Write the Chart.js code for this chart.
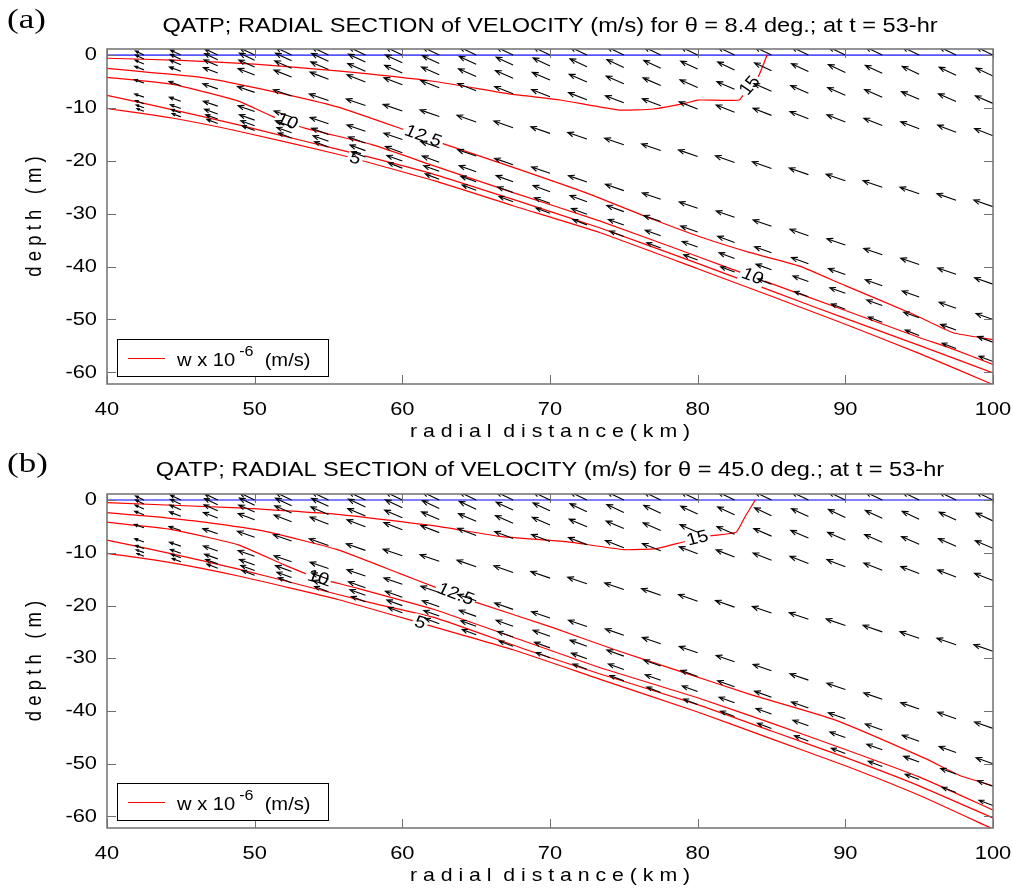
<!DOCTYPE html>
<html lang="en">
<head>
<meta charset="UTF-8" />
<title>QATP radial sections of velocity</title>
<script src="https://cdn.jsdelivr.net/npm/chart.js"></script>
<style>
  body { margin: 0; background: #fff; }
  .panel { width: 1013px; height: 444px; }
</style>
</head>
<body>
<div class="panel"><canvas id="sectionA" width="1013" height="444"></canvas></div>
<div class="panel"><canvas id="sectionB" width="1013" height="444"></canvas></div>
<script>
// axis ticks
const xTicks = [40, 50, 60, 70, 80, 90, 100];
const yTicks = [0, -10, -20, -30, -40, -50, -60];

// quiver grid: radial columns (km), bed depth under each column (m), sigma levels
const gridX = [40, 42.5, 45, 47.5, 50, 52.5, 55, 57.5, 60, 62.5, 65, 67.5, 70,
               72.5, 75, 77.5, 80, 82.5, 85, 87.5, 90, 92.5, 95, 97.5, 100];
const bedDepth = [10.3, 11.2, 12.3, 13.6, 15.0, 16.5, 18.3, 20.3, 22.5, 24.7, 26.9, 29.2, 31.5,
                  33.8, 36.1, 38.4, 40.8, 43.2, 45.6, 48.1, 50.6, 53.2, 55.8, 58.4, 61.0];
const sigmaLevels = [0, 0.065, 0.15, 0.25, 0.47, 0.71, 0.82, 0.89, 0.95];
// arrow size per level (km across, m up) and strength per column
const levelDx = [-1.15, -1.15, -1.2, -1.25, -1.3, -1.25, -1.15, -1.05, -0.95];
const levelDz = [1.55, 1.5, 1.45, 1.35, 1.25, 1.2, 1.15, 1.05, 1.0];
const columnStrength = [0.35, 0.5, 0.62, 0.78, 0.9, 0.95, 1, 1, 1, 1, 1, 1, 1,
                        1, 1, 1, 1, 1, 1, 1, 1, 1, 1, 1, 1];

// contour levels of w (x 10^-6 m/s)
const contourLevels = [15, 12.5, 10, 7.5, 5];

// panel (a), theta = 8.4 deg
const w15aX = [40, 45, 50, 55.6, 62.2, 67.4, 70.7, 74.7, 77.0, 79.2, 80.0, 82.8, 83.3, 84.1, 84.7];
const w15aY = [-0.6, -1.0, -1.7, -3.0, -5.0, -7.4, -8.5, -10.4, -10.2, -9.1, -8.5, -8.5, -6.6, -4.1, 0];
const w125aX = [40, 43, 46.6, 51.1, 55.6, 60.1, 62.7, 68.0, 72.5, 77.0, 80.1, 83.5, 86.9, 90.0, 94.6, 97.3, 100];
const w125aY = [-2.5, -3.3, -4.3, -6.8, -9.8, -14.1, -16.7, -21.7, -26.1, -31.1, -34.3, -37.3, -39.9, -43.6, -49.0, -52.5, -53.8];
const w10aX = [40, 44.4, 48.9, 51.2, 53.4, 57.9, 62.2, 67.5, 73.4, 80, 83.7, 90, 95, 97.3, 100];
const w10aY = [-4.2, -5.5, -8.7, -11.6, -13.8, -16.9, -21.0, -26.0, -31.4, -38.1, -41.9, -48.3, -53.4, -55.6, -58.5];
const w75aX = [40, 44.4, 48.9, 53.4, 57.9, 62.2, 67.5, 73.4, 80, 85, 90, 95, 100];
const w75aY = [-7.6, -10.3, -13.2, -16.3, -19.4, -22.6, -27.3, -32.7, -39.4, -44.6, -49.8, -54.9, -60.1];
const w5aX = [40, 44.4, 48.9, 55.7, 62.2, 67.5, 73.4, 80, 85, 90, 95, 100];
const w5aY = [-10.1, -11.9, -14.4, -18.8, -23.8, -28.5, -33.6, -40.4, -45.6, -50.9, -56.4, -62.3];
const labelAText = ['15', '12.5', '10', '5', '10'];
const labelALevel = [15, 12.5, 10, 5, 10];
const labelAX = [83.55, 61.4, 52.2, 56.8, 83.7];
const labelAY = [-5.8, -15.4, -12.6, -19.6, -41.9];

// panel (b), theta = 45.0 deg
const w15bX = [40, 48.9, 55.6, 62.2, 66.6, 71.1, 75.0, 77.2, 79.1, 80.8, 82.6, 83.2, 83.9];
const w15bY = [-0.5, -1.5, -2.7, -4.9, -6.9, -7.9, -9.4, -9.2, -7.9, -6.8, -6.1, -3.2, 0];
const w125bX = [40, 43, 46.6, 50.8, 55.6, 59.8, 62.3, 64.9, 70.2, 74.3, 78.6, 83.6, 89.2, 95.4, 97.8, 100];
const w125bY = [-2.4, -3.1, -4.2, -6.0, -9.4, -13.9, -16.6, -19.3, -24.2, -28.3, -32.3, -36.9, -41.6, -49.0, -52.3, -54.2];
const w10bX = [40, 44.4, 48.9, 52.0, 54.3, 56.5, 62.2, 68, 73.4, 80, 85, 90, 95, 100];
const w10bY = [-4.2, -5.6, -8.5, -12.3, -14.8, -16.4, -20.8, -26.5, -31.8, -37.5, -42.3, -47.3, -52.5, -58.8];
const w75bX = [40, 44.4, 48.9, 53.4, 57.9, 62.2, 68.4, 73.4, 80, 85, 90, 95, 100];
const w75bY = [-7.6, -10.2, -13.1, -16.3, -19.5, -22.3, -28.4, -33.0, -38.8, -43.8, -48.8, -54.2, -60.3];
const w5bX = [40, 44.4, 48.9, 55.7, 61.2, 67.5, 73.4, 80, 85, 90, 95, 100];
const w5bY = [-10.1, -11.9, -14.4, -18.9, -23.3, -28.4, -34.0, -40.2, -45.3, -50.4, -56.0, -62.4];
const labelBText = ['15', '12.5', '10', '5'];
const labelBLevel = [15, 12.5, 10, 5];
const labelBX = [80.0, 63.6, 54.3, 61.2];
const labelBY = [-7.3, -17.9, -14.8, -23.3];

const FONT = '"Liberation Sans", Arial, Helvetica, sans-serif';
const SERIF = '"Liberation Serif", "Times New Roman", serif';
const STRETCH = 1.15;   // glyphs in this figure are set slightly wide
const AXIS_GREY = '#707070';

// text with a horizontal stretch; angle is the on-screen baseline angle
function wideText(ctx, str, x, y, o) {
  const sx = o.stretch || STRETCH;
  ctx.save();
  ctx.translate(x, y);
  ctx.scale(sx, 1);
  if (o.angle) ctx.rotate(Math.atan2(Math.sin(o.angle), Math.cos(o.angle) / sx));
  ctx.font = (o.size || 18) + 'px ' + (o.family || FONT);
  ctx.textAlign = o.align || 'left';
  ctx.textBaseline = o.baseline || 'alphabetic';
  if (o.gap) {
    const w = ctx.measureText(str).width;
    ctx.fillStyle = '#fff';
    ctx.fillRect(-w / 2 - 2, -o.size * 0.48, w + 4, o.size * 0.96);
  } else {
    ctx.fillStyle = o.color || '#000';
    ctx.fillText(str, 0, 0);
  }
  const w = ctx.measureText(str).width * sx;
  ctx.restore();
  return w;
}

function arrow(ctx, x0, y0, x1, y1) {
  const ang = Math.atan2(y1 - y0, x1 - x0);
  const len = Math.hypot(x1 - x0, y1 - y0);
  const h = Math.min(6.5, len * 0.38);
  ctx.beginPath();
  ctx.moveTo(x0, y0);
  ctx.lineTo(x1, y1);
  ctx.moveTo(x1 - h * Math.cos(ang - 0.38), y1 - h * Math.sin(ang - 0.38));
  ctx.lineTo(x1, y1);
  ctx.lineTo(x1 - h * Math.cos(ang + 0.38), y1 - h * Math.sin(ang + 0.38));
  ctx.stroke();
}

// screen angle of the contour segment nearest to a label
function contourAngle(chart, level, px, py) {
  const ds = chart.data.datasets.find(d => d.level === level);
  const {x, y} = chart.scales;
  let best = Infinity, ang = 0;
  for (let i = 1; i < ds.data.length; i++) {
    const ax = x.getPixelForValue(ds.data[i - 1].x), ay = y.getPixelForValue(ds.data[i - 1].y);
    const bx = x.getPixelForValue(ds.data[i].x), by = y.getPixelForValue(ds.data[i].y);
    const d = Math.hypot((ax + bx) / 2 - px, (ay + by) / 2 - py);
    if (d < best) { best = d; ang = Math.atan2(by - ay, bx - ax); }
  }
  if (ang > Math.PI / 2) ang -= Math.PI;
  if (ang < -Math.PI / 2) ang += Math.PI;
  return ang;
}

const sectionPlugin = {
  id: 'section',
  afterDatasetsDraw(chart) {
    const cfg = chart.options.plugins.section;
    const {ctx, chartArea: a, scales: {x, y}} = chart;
    ctx.save();
    ctx.beginPath();
    ctx.rect(a.left, a.top, a.right - a.left, a.bottom - a.top);
    ctx.clip();

    const labels = cfg.text.map((t, k) => {
      const px = x.getPixelForValue(cfg.x[k]), py = y.getPixelForValue(cfg.y[k]);
      return {t, px, py, angle: contourAngle(chart, cfg.level[k], px, py)};
    });
    // break the contour lines under their labels
    labels.forEach(l => wideText(ctx, l.t, l.px, l.py, {size: 17, align: 'center', baseline: 'middle', angle: l.angle, gap: true}));

    // velocity arrows
    const q = chart.data.datasets.find(d => d.quiver);
    ctx.strokeStyle = '#000';
    ctx.lineWidth = 1.1;
    q.data.forEach(p => {
      arrow(ctx, x.getPixelForValue(p.x), y.getPixelForValue(p.y),
            x.getPixelForValue(p.x + p.dx), y.getPixelForValue(p.y + p.dz));
    });

    labels.forEach(l => wideText(ctx, l.t, l.px, l.py, {size: 17, align: 'center', baseline: 'middle', angle: l.angle}));
    ctx.restore();
  },
  afterDraw(chart) {
    const cfg = chart.options.plugins.section;
    const {ctx, chartArea: a, scales: {x, y}} = chart;
    ctx.save();
    // axes box with inward ticks
    ctx.strokeStyle = AXIS_GREY;
    ctx.lineWidth = 1.5;
    ctx.strokeRect(a.left, a.top, a.right - a.left, a.bottom - a.top);
    ctx.lineWidth = 1;
    ctx.beginPath();
    xTicks.forEach(v => {
      const px = Math.round(x.getPixelForValue(v)) + 0.5;
      ctx.moveTo(px, a.bottom); ctx.lineTo(px, a.bottom - 9);
      ctx.moveTo(px, a.top); ctx.lineTo(px, a.top + 9);
    });
    yTicks.forEach(v => {
      const py = Math.round(y.getPixelForValue(v)) + 0.5;
      ctx.moveTo(a.left, py); ctx.lineTo(a.left + 9, py);
      ctx.moveTo(a.right, py); ctx.lineTo(a.right - 9, py);
    });
    ctx.stroke();

    // tick labels
    xTicks.forEach(v => wideText(ctx, String(v), x.getPixelForValue(v), a.bottom + 31, {size: 19, align: 'center'}));
    yTicks.forEach(v => wideText(ctx, String(v), a.left - 10, y.getPixelForValue(v), {size: 19, align: 'right', baseline: 'middle'}));

    // axis titles
    const cx = (a.left + a.right) / 2;
    wideText(ctx, 'r a d i a l  d i s t a n c e ( k m )', cx, a.bottom + 53, {size: 18.5, align: 'center'});
    wideText(ctx, 'd e p t h   ( m )', 41, (a.top + a.bottom) / 2, {size: 18.5, align: 'center', angle: -Math.PI / 2});

    // title and panel tag
    wideText(ctx, cfg.title, cx, 32, {size: 20.5, align: 'center'});
    wideText(ctx, cfg.tag, 7, 28, {size: 28, family: SERIF, stretch: 1.25});

    // legend
    const lx = a.left + 10, ly = a.bottom - 45;
    ctx.fillStyle = '#fff';
    ctx.fillRect(lx, ly, 211, 37);
    ctx.strokeStyle = '#000';
    ctx.lineWidth = 1;
    ctx.strokeRect(lx + 0.5, ly + 0.5, 211, 37);
    ctx.strokeStyle = '#ff0000';
    ctx.beginPath();
    ctx.moveTo(lx + 11, ly + 19.5); ctx.lineTo(lx + 48, ly + 19.5);
    ctx.stroke();
    let tx = lx + 60;
    tx += wideText(ctx, 'w x 10', tx, ly + 27, {size: 17.5});
    tx += 4;
    tx += wideText(ctx, '-6', tx, ly + 17, {size: 14});
    wideText(ctx, '  (m/s)', tx, ly + 27, {size: 17.5});
    ctx.restore();
  }
};

function xy(xs, ys) { return xs.map((v, i) => ({x: v, y: ys[i]})); }

function quiverData() {
  const pts = [];
  gridX.forEach((gx, i) => {
    sigmaLevels.forEach((s, j) => {
      pts.push({x: gx, y: -s * bedDepth[i], dx: levelDx[j] * columnStrength[i], dz: levelDz[j] * columnStrength[i]});
    });
  });
  return pts;
}

function drawSection(id, top, section, contours) {
  const datasets = contours.map((c, k) => ({
    label: 'w = ' + contourLevels[k],
    level: contourLevels[k],
    data: xy(c[0], c[1]),
    showLine: true,
    borderColor: '#ff0000',
    borderWidth: 1.2,
    pointRadius: 0,
    tension: 0.15
  }));
  datasets.push({
    label: 'surface',
    data: xy([40, 100], [0, 0]),
    showLine: true,
    borderColor: 'rgb(85, 85, 255)',
    borderWidth: 1.6,
    pointRadius: 0
  });
  datasets.push({label: 'velocity', quiver: true, data: quiverData(), pointRadius: 0, showLine: false});

  new Chart(document.getElementById(id), {
    type: 'scatter',
    data: {datasets},
    options: {
      responsive: false,
      animation: false,
      devicePixelRatio: 1,
      layout: {padding: {top: top, right: 20, left: 0, bottom: 0}},
      plugins: {
        legend: {display: false},
        tooltip: {enabled: false},
        section
      },
      scales: {
        x: {
          type: 'linear', min: 40, max: 100,
          grid: {display: false}, border: {display: false}, ticks: {display: false},
          afterBuildTicks: s => { s.ticks = xTicks.map(v => ({value: v})); },
          afterFit: s => { s.height = 60; }
        },
        y: {
          type: 'linear', min: -62.2, max: 1.15,
          grid: {display: false}, border: {display: false}, ticks: {display: false},
          afterBuildTicks: s => { s.ticks = yTicks.map(v => ({value: v})); },
          afterFit: s => { s.width = 107; }
        }
      }
    },
    plugins: [sectionPlugin]
  });
}

drawSection('sectionA', 49, {
  tag: '(a)',
  title: 'QATP; RADIAL SECTION of VELOCITY (m/s) for \u03b8 = 8.4 deg.; at t = 53-hr',
  text: labelAText, level: labelALevel, x: labelAX, y: labelAY
}, [[w15aX, w15aY], [w125aX, w125aY], [w10aX, w10aY], [w75aX, w75aY], [w5aX, w5aY]]);

drawSection('sectionB', 50, {
  tag: '(b)',
  title: 'QATP; RADIAL SECTION of VELOCITY (m/s) for \u03b8 = 45.0 deg.; at t = 53-hr',
  text: labelBText, level: labelBLevel, x: labelBX, y: labelBY
}, [[w15bX, w15bY], [w125bX, w125bY], [w10bX, w10bY], [w75bX, w75bY], [w5bX, w5bY]]);
</script>
</body>
</html>
